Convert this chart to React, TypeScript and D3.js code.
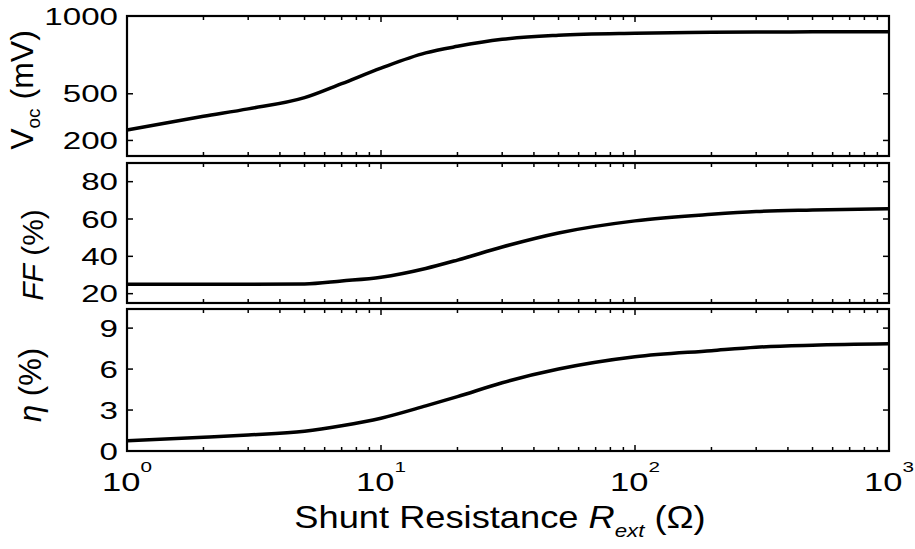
import { useEffect, useRef } from 'react'
import * as d3 from 'd3'

// Shunt resistance sweep (ohm)
const rExt = [1, 2, 3, 5, 7, 10, 15, 20, 30, 50, 100, 200, 300, 500, 1000]
const vocValues = [267, 355, 403, 475, 565, 665, 763, 805, 850, 876, 889, 895, 897, 898, 899]
const ffValues = [25, 25, 25, 25.2, 26.8, 28.8, 33.5, 38, 45, 52.5, 59, 62.5, 64, 64.8, 65.5]
const etaValues = [0.75, 1.0, 1.17, 1.45, 1.85, 2.4, 3.3, 3.98, 5.0, 6.0, 6.9, 7.35, 7.6, 7.75, 7.85]

const xMajorTicks = [1, 10, 100, 1000]
const vocTicks = [200, 500, 1000]
const ffTicks = [20, 40, 60, 80]
const etaTicks = [0, 3, 6, 9]

const FONT = '"Liberation Sans", Arial, sans-serif'
const STRETCH = 1.38 // labels in the source are wide

export default function App() {
  const svgRef = useRef<SVGSVGElement>(null)

  useEffect(() => {
    if (!svgRef.current) return
    const svg = d3.select(svgRef.current)
    svg.selectAll('*').remove()

    const left = 127
    const right = 889
    const x = d3.scaleLog().domain([1, 1000]).range([left, right])

    const minorTicks: number[] = []
    for (let d = 1; d < 1000; d *= 10) {
      for (let k = 2; k <= 9; k++) minorTicks.push(d * k)
    }

    const panels = [
      { top: 16, bottom: 156, domain: [100, 1000], ticks: vocTicks, values: vocValues },
      { top: 163, bottom: 303, domain: [15, 90], ticks: ffTicks, values: ffValues },
      { top: 309, bottom: 451, domain: [0, 10.4], ticks: etaTicks, values: etaValues },
    ]

    // y title placement: baseline x, centre y, font size
    const titlePos = [
      { tx: 33, cy: 90, size: 32 },
      { tx: 43, cy: 255, size: 30 },
      { tx: 41, cy: 385, size: 31 },
    ]

    panels.forEach((p, i) => {
      const y = d3.scaleLinear().domain(p.domain).range([p.bottom, p.top])
      const g = svg.append('g')

      // curve
      const line = d3.line<number>()
        .x((_, j) => x(rExt[j]))
        .y(v => y(v))
        .curve(d3.curveMonotoneX)
      g.append('path')
        .attr('d', line(p.values))
        .attr('fill', 'none')
        .attr('stroke', '#000')
        .attr('stroke-width', 3.5)

      // x ticks, inward on top and bottom
      const xt = [...xMajorTicks.map(t => ({ t, len: 6 })), ...minorTicks.map(t => ({ t, len: 4 }))]
      xt.forEach(({ t, len }) => {
        g.append('line')
          .attr('x1', x(t)).attr('x2', x(t))
          .attr('y1', p.bottom).attr('y2', p.bottom - len)
          .attr('stroke', '#000').attr('stroke-width', 1.5)
        g.append('line')
          .attr('x1', x(t)).attr('x2', x(t))
          .attr('y1', p.top).attr('y2', p.top + len)
          .attr('stroke', '#000').attr('stroke-width', 1.5)
      })

      // y ticks and labels
      p.ticks.forEach(t => {
        g.append('line')
          .attr('x1', left).attr('x2', left + 6)
          .attr('y1', y(t)).attr('y2', y(t))
          .attr('stroke', '#000').attr('stroke-width', 1.5)
        g.append('line')
          .attr('x1', right).attr('x2', right - 6)
          .attr('y1', y(t)).attr('y2', y(t))
          .attr('stroke', '#000').attr('stroke-width', 1.5)
        g.append('text')
          .attr('transform', `translate(${left - 9},${y(t) + 8.5}) scale(${STRETCH},1)`)
          .attr('text-anchor', 'end')
          .attr('font-family', FONT)
          .attr('font-size', 24)
          .text(String(t))
      })

      // frame
      g.append('rect')
        .attr('x', left).attr('y', p.top)
        .attr('width', right - left).attr('height', p.bottom - p.top)
        .attr('fill', 'none')
        .attr('stroke', '#000')
        .attr('stroke-width', 2.2)

      // y title
      const tp = titlePos[i]
      const title = g.append('text')
        .attr('transform', `translate(${tp.tx},${tp.cy}) rotate(-90)`)
        .attr('text-anchor', 'middle')
        .attr('font-family', FONT)
        .attr('font-size', tp.size)
      if (i === 0) {
        title.append('tspan').text('V')
        title.append('tspan').attr('font-size', 19).attr('dy', 7).text('oc')
        title.append('tspan').attr('dy', -7).text(' (mV)')
      } else if (i === 1) {
        title.append('tspan').attr('font-style', 'italic').text('FF')
        title.append('tspan').text(' (%)')
      } else {
        title.append('tspan').attr('font-style', 'italic').text('η')
        title.append('tspan').text(' (%)')
      }
    })

    // x tick labels
    xMajorTicks.forEach((t, k) => {
      const lbl = svg.append('text')
        .attr('transform', `translate(${x(t)},491) scale(${STRETCH},1)`)
        .attr('text-anchor', 'middle')
        .attr('font-family', FONT)
        .attr('font-size', 25)
      lbl.append('tspan').text('10')
      lbl.append('tspan').attr('font-size', 15).attr('dy', -19).text(String(k))
    })

    // x title
    const xt = svg.append('text')
      .attr('transform', 'translate(500,528) scale(1.17,1)')
      .attr('text-anchor', 'middle')
      .attr('font-family', FONT)
      .attr('font-size', 31)
    xt.append('tspan').text('Shunt Resistance ')
    xt.append('tspan').attr('font-style', 'italic').text('R')
    xt.append('tspan').attr('font-style', 'italic').attr('font-size', 19).attr('dy', 9).text('ext')
    xt.append('tspan').attr('dy', -9).text(' (Ω)')
  }, [])

  return (
    <svg
      ref={svgRef}
      width={915}
      height={549}
      style={{ position: 'absolute', left: 0, top: 0, background: '#fff' }}
    />
  )
}
